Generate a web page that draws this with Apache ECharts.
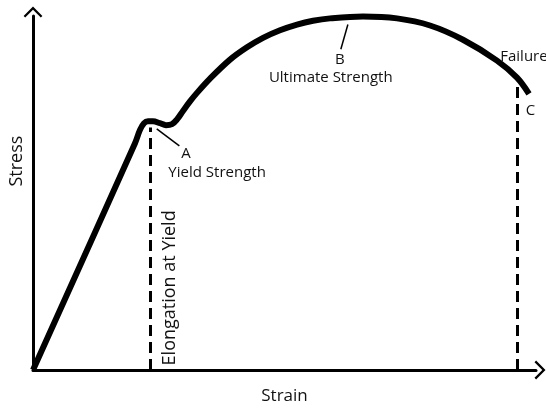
<!DOCTYPE html>
<html><head><meta charset="utf-8">
<script src="https://cdn.jsdelivr.net/npm/echarts@6/dist/echarts.min.js"></script>
<style>html,body{margin:0;padding:0;background:#fff}#c{width:546px;height:410px}</style>
</head><body><div id="c"></div>
<script>
// Stress–strain curve (arbitrary units: strain 0–100, stress 0–100)
const strain = [0,20.28,21.27,22.07,22.86,23.86,25.25,26.44,27.63,28.63,29.82,31.21,32.6,35.19,39.17,42.54,45.73,49.11,52.49,55.67,59.05,65.61,72.37,78.93,85.49,92.25,96.22,98.61];
const stress = [0,64.08,67.83,69.71,70.24,70.24,69.71,69.17,69.44,70.78,73.19,75.87,78.28,82.31,87.67,91.15,93.83,95.98,97.59,98.66,99.33,99.87,99.33,97.32,93.3,87.4,82.57,78.0];
const yieldStrain = 23.26, yieldTop = 68.5;
const failStrain = 96.22, failTop = 80.7;
const pointerA = [[24.6,68.1],[29.1,63.3]];
const pointerB = [[62.6,97.6],[61.2,90.6]];
const labels = [
  {text:'A', x:30.4, y:61.0},
  {text:'Yield Strength', x:36.6, y:55.8},
  {text:'B', x:61.0, y:87.6},
  {text:'Ultimate Strength', x:59.2, y:82.6},
  {text:'Failure', x:97.6, y:88.4},
  {text:'C', x:98.9, y:73.2}
];
const yName = {text:'Stress', x:-3.2, y:59.0};
const xName = 'Strain';
const elong = {text:'Elongation at Yield', x:27.2, y:23.2};

const FONT = 'Open Sans';
const arrow = 'path://M0,10 L10,0 L20,10 L18.3,11.7 L10,3.4 L1.7,11.7 Z';
const chart = echarts.init(document.getElementById('c'), null, {renderer:'canvas'});
chart.setOption({
  animation:false,
  backgroundColor:'#fff',
  grid:{left:33, right:10, top:16, bottom:21},
  xAxis:{type:'value', min:0, max:100,
    name:xName, nameLocation:'middle', nameGap:18,
    nameTextStyle:{fontFamily:FONT, fontSize:17, color:'#111'},
    axisLine:{show:true, lineStyle:{color:'#000', width:3}, symbol:['none',arrow], symbolSize:[20,11], symbolOffset:[0,4]},
    axisTick:{show:false}, axisLabel:{show:false}, splitLine:{show:false}},
  yAxis:{type:'value', min:0, max:100,
    axisLine:{show:true, lineStyle:{color:'#000', width:3}, symbol:['none',arrow], symbolSize:[20,11], symbolOffset:[0,4]},
    axisTick:{show:false}, axisLabel:{show:false}, splitLine:{show:false}},
  series:[
    {type:'line', data:strain.map((v,i)=>[v,stress[i]]), smooth:0.35, showSymbol:false, clip:false,
     lineStyle:{color:'#000', width:6, cap:'butt', join:'round'},
     markLine:{silent:true, symbol:['none','none'], label:{show:false},
       data:[
         [{coord:[yieldStrain,0], lineStyle:{type:[11,6], width:3, color:'#000'}},{coord:[yieldStrain,yieldTop]}],
         [{coord:[failStrain,0], lineStyle:{type:[11,6], width:3, color:'#000'}},{coord:[failStrain,failTop]}],
         [{coord:pointerA[0], lineStyle:{type:'solid', width:1.5, color:'#000'}},{coord:pointerA[1]}],
         [{coord:pointerB[0], lineStyle:{type:'solid', width:1.5, color:'#000'}},{coord:pointerB[1]}]
       ]},
     markPoint:{silent:true, symbol:'circle', symbolSize:0,
       label:{show:true, position:'inside', fontFamily:FONT, fontSize:15, color:'#111'},
       data: labels.map(l=>({coord:[l.x,l.y], value:l.text, label:{formatter:l.text}}))
         .concat([
           {coord:[elong.x,elong.y], value:elong.text, label:{formatter:elong.text, rotate:90, fontSize:18}}
         ])
     }
    }
  ]
});
const p = chart.convertToPixel({gridIndex:0}, [yName.x, yName.y]);
chart.setOption({graphic:[{type:'text', x:p[0], y:p[1], rotation:Math.PI/2,
  style:{text:yName.text, fontFamily:FONT, fontSize:18, fill:'#111', align:'center', verticalAlign:'middle'}}]});
</script></body></html>
